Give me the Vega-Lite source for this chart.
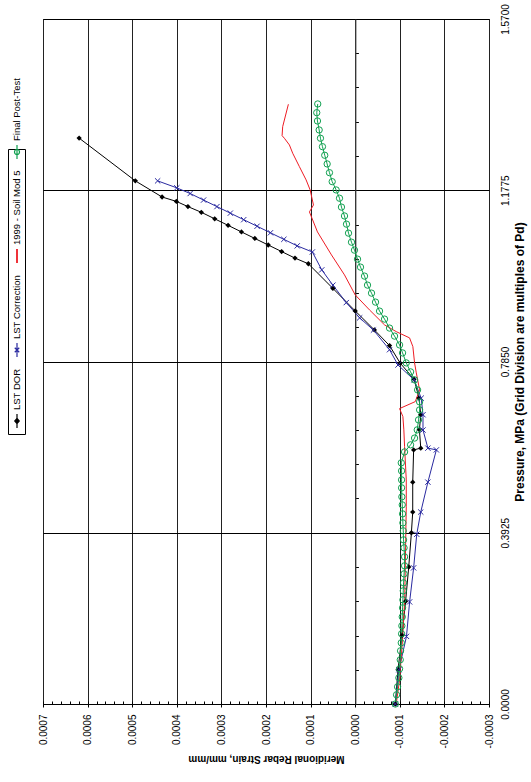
{
  "$schema": "https://vega.github.io/schema/vega-lite/v6.json",
  "autosize": {"type": "none"},
  "padding": {"left": 43, "top": 19, "right": 42, "bottom": 78},
  "width": 446,
  "height": 685,
  "background": "white",
  "config": {
    "view": {"stroke": "black", "strokeWidth": 1},
    "axis": {"labelFont": "Liberation Sans", "titleFont": "Liberation Sans", "labelColor": "black", "titleColor": "black", "tickColor": "black", "domainColor": "black"}
  },
  "data": {"values": [
    {"series": "LST DOR", "i": 0, "s": -0.00009, "p": 0},
    {"series": "LST DOR", "i": 1, "s": -0.000096, "p": 0.0785},
    {"series": "LST DOR", "i": 2, "s": -0.000105, "p": 0.157},
    {"series": "LST DOR", "i": 3, "s": -0.000113, "p": 0.2355},
    {"series": "LST DOR", "i": 4, "s": -0.00012, "p": 0.314},
    {"series": "LST DOR", "i": 5, "s": -0.000126, "p": 0.3925},
    {"series": "LST DOR", "i": 6, "s": -0.000129, "p": 0.44},
    {"series": "LST DOR", "i": 7, "s": -0.000129, "p": 0.5085},
    {"series": "LST DOR", "i": 8, "s": -0.000131, "p": 0.5824},
    {"series": "LST DOR", "i": 9, "s": -0.000147, "p": 0.5864},
    {"series": "LST DOR", "i": 10, "s": -0.000144, "p": 0.6283},
    {"series": "LST DOR", "i": 11, "s": -0.000147, "p": 0.6627},
    {"series": "LST DOR", "i": 12, "s": -0.000143, "p": 0.7016},
    {"series": "LST DOR", "i": 13, "s": -0.000132, "p": 0.7444},
    {"series": "LST DOR", "i": 14, "s": -0.000101, "p": 0.7811},
    {"series": "LST DOR", "i": 15, "s": -0.000077, "p": 0.8214},
    {"series": "LST DOR", "i": 16, "s": -0.000043, "p": 0.8574},
    {"series": "LST DOR", "i": 17, "s": 0.0, "p": 0.901},
    {"series": "LST DOR", "i": 18, "s": 0.00005, "p": 0.9525},
    {"series": "LST DOR", "i": 19, "s": 0.000105, "p": 1.009},
    {"series": "LST DOR", "i": 20, "s": 0.000135, "p": 1.022},
    {"series": "LST DOR", "i": 21, "s": 0.000165, "p": 1.037},
    {"series": "LST DOR", "i": 22, "s": 0.000195, "p": 1.052},
    {"series": "LST DOR", "i": 23, "s": 0.000225, "p": 1.067},
    {"series": "LST DOR", "i": 24, "s": 0.000255, "p": 1.082},
    {"series": "LST DOR", "i": 25, "s": 0.000285, "p": 1.097},
    {"series": "LST DOR", "i": 26, "s": 0.000315, "p": 1.112},
    {"series": "LST DOR", "i": 27, "s": 0.000345, "p": 1.127},
    {"series": "LST DOR", "i": 28, "s": 0.000375, "p": 1.14},
    {"series": "LST DOR", "i": 29, "s": 0.000401, "p": 1.152},
    {"series": "LST DOR", "i": 30, "s": 0.000433, "p": 1.162},
    {"series": "LST DOR", "i": 31, "s": 0.000493, "p": 1.199},
    {"series": "LST DOR", "i": 32, "s": 0.000619, "p": 1.297},
    {"series": "LST Correction", "i": 0, "s": -0.00009, "p": 0},
    {"series": "LST Correction", "i": 1, "s": -0.000098, "p": 0.0785},
    {"series": "LST Correction", "i": 2, "s": -0.000115, "p": 0.155},
    {"series": "LST Correction", "i": 3, "s": -0.000122, "p": 0.234},
    {"series": "LST Correction", "i": 4, "s": -0.000131, "p": 0.312},
    {"series": "LST Correction", "i": 5, "s": -0.000138, "p": 0.389},
    {"series": "LST Correction", "i": 6, "s": -0.000147, "p": 0.44},
    {"series": "LST Correction", "i": 7, "s": -0.000163, "p": 0.5085},
    {"series": "LST Correction", "i": 8, "s": -0.000182, "p": 0.5824},
    {"series": "LST Correction", "i": 9, "s": -0.000163, "p": 0.5864},
    {"series": "LST Correction", "i": 10, "s": -0.000152, "p": 0.628},
    {"series": "LST Correction", "i": 11, "s": -0.000152, "p": 0.663},
    {"series": "LST Correction", "i": 12, "s": -0.000148, "p": 0.701},
    {"series": "LST Correction", "i": 13, "s": -0.000132, "p": 0.743},
    {"series": "LST Correction", "i": 14, "s": -0.000096, "p": 0.777},
    {"series": "LST Correction", "i": 15, "s": -0.000077, "p": 0.812},
    {"series": "LST Correction", "i": 16, "s": -0.000041, "p": 0.857},
    {"series": "LST Correction", "i": 17, "s": -0.00001, "p": 0.885},
    {"series": "LST Correction", "i": 18, "s": 0.00002, "p": 0.92},
    {"series": "LST Correction", "i": 19, "s": 0.00005, "p": 0.96},
    {"series": "LST Correction", "i": 20, "s": 0.000075, "p": 0.995},
    {"series": "LST Correction", "i": 21, "s": 0.000096, "p": 1.036},
    {"series": "LST Correction", "i": 22, "s": 0.00013, "p": 1.05},
    {"series": "LST Correction", "i": 23, "s": 0.00016, "p": 1.065},
    {"series": "LST Correction", "i": 24, "s": 0.00019, "p": 1.08},
    {"series": "LST Correction", "i": 25, "s": 0.00022, "p": 1.095},
    {"series": "LST Correction", "i": 26, "s": 0.00025, "p": 1.11},
    {"series": "LST Correction", "i": 27, "s": 0.00028, "p": 1.125},
    {"series": "LST Correction", "i": 28, "s": 0.00031, "p": 1.14},
    {"series": "LST Correction", "i": 29, "s": 0.00034, "p": 1.155},
    {"series": "LST Correction", "i": 30, "s": 0.00037, "p": 1.17},
    {"series": "LST Correction", "i": 31, "s": 0.0004, "p": 1.183},
    {"series": "LST Correction", "i": 32, "s": 0.000443, "p": 1.199},
    {"series": "1999 - Soil Mod 5", "i": 0, "s": -0.000092, "p": 0},
    {"series": "1999 - Soil Mod 5", "i": 1, "s": -0.0000995, "p": 0.055},
    {"series": "1999 - Soil Mod 5", "i": 2, "s": -0.000106, "p": 0.147},
    {"series": "1999 - Soil Mod 5", "i": 3, "s": -0.000111, "p": 0.239},
    {"series": "1999 - Soil Mod 5", "i": 4, "s": -0.0001145, "p": 0.452},
    {"series": "1999 - Soil Mod 5", "i": 5, "s": -0.0001145, "p": 0.5137},
    {"series": "1999 - Soil Mod 5", "i": 6, "s": -0.0001107, "p": 0.59},
    {"series": "1999 - Soil Mod 5", "i": 7, "s": -0.0001091, "p": 0.6283},
    {"series": "1999 - Soil Mod 5", "i": 8, "s": -0.0001069, "p": 0.6588},
    {"series": "1999 - Soil Mod 5", "i": 9, "s": -0.0000995, "p": 0.6771},
    {"series": "1999 - Soil Mod 5", "i": 10, "s": -0.0001347, "p": 0.6931},
    {"series": "1999 - Soil Mod 5", "i": 11, "s": -0.0001444, "p": 0.72},
    {"series": "1999 - Soil Mod 5", "i": 12, "s": -0.000137, "p": 0.7589},
    {"series": "1999 - Soil Mod 5", "i": 13, "s": -0.0001331, "p": 0.7818},
    {"series": "1999 - Soil Mod 5", "i": 14, "s": -0.0001293, "p": 0.8191},
    {"series": "1999 - Soil Mod 5", "i": 15, "s": -0.0001219, "p": 0.8391},
    {"series": "1999 - Soil Mod 5", "i": 16, "s": -0.000092, "p": 0.8535},
    {"series": "1999 - Soil Mod 5", "i": 17, "s": -0.0000658, "p": 0.8689},
    {"series": "1999 - Soil Mod 5", "i": 18, "s": -0.0000321, "p": 0.9032},
    {"series": "1999 - Soil Mod 5", "i": 19, "s": 0.0, "p": 0.9376},
    {"series": "1999 - Soil Mod 5", "i": 20, "s": 0.000024, "p": 0.9835},
    {"series": "1999 - Soil Mod 5", "i": 21, "s": 0.0000532, "p": 1.0293},
    {"series": "1999 - Soil Mod 5", "i": 22, "s": 0.0000846, "p": 1.082},
    {"series": "1999 - Soil Mod 5", "i": 23, "s": 0.0001026, "p": 1.1278},
    {"series": "1999 - Soil Mod 5", "i": 24, "s": 0.0000936, "p": 1.1438},
    {"series": "1999 - Soil Mod 5", "i": 25, "s": 0.000101, "p": 1.1782},
    {"series": "1999 - Soil Mod 5", "i": 26, "s": 0.00011, "p": 1.2011},
    {"series": "1999 - Soil Mod 5", "i": 27, "s": 0.0001251, "p": 1.2316},
    {"series": "1999 - Soil Mod 5", "i": 28, "s": 0.0001401, "p": 1.2623},
    {"series": "1999 - Soil Mod 5", "i": 29, "s": 0.0001475, "p": 1.2813},
    {"series": "1999 - Soil Mod 5", "i": 30, "s": 0.0001587, "p": 1.2966},
    {"series": "1999 - Soil Mod 5", "i": 31, "s": 0.0001639, "p": 1.3026},
    {"series": "1999 - Soil Mod 5", "i": 32, "s": 0.0001626, "p": 1.3232},
    {"series": "1999 - Soil Mod 5", "i": 33, "s": 0.0001498, "p": 1.3746},
    {"series": "Final Post-Test", "i": 0, "s": -0.00009, "p": 0},
    {"series": "Final Post-Test", "i": 1, "s": -0.0000927, "p": 0.0211},
    {"series": "Final Post-Test", "i": 2, "s": -0.000095, "p": 0.0394},
    {"series": "Final Post-Test", "i": 3, "s": -0.0000979, "p": 0.06},
    {"series": "Final Post-Test", "i": 4, "s": -0.0000995, "p": 0.0807},
    {"series": "Final Post-Test", "i": 5, "s": -0.000101, "p": 0.1013},
    {"series": "Final Post-Test", "i": 6, "s": -0.0001017, "p": 0.1219},
    {"series": "Final Post-Test", "i": 7, "s": -0.0001033, "p": 0.1402},
    {"series": "Final Post-Test", "i": 8, "s": -0.000104, "p": 0.1609},
    {"series": "Final Post-Test", "i": 9, "s": -0.0001046, "p": 0.1792},
    {"series": "Final Post-Test", "i": 10, "s": -0.0001055, "p": 0.1998},
    {"series": "Final Post-Test", "i": 11, "s": -0.0001062, "p": 0.2204},
    {"series": "Final Post-Test", "i": 12, "s": -0.0001069, "p": 0.2388},
    {"series": "Final Post-Test", "i": 13, "s": -0.0001078, "p": 0.2594},
    {"series": "Final Post-Test", "i": 14, "s": -0.0001084, "p": 0.2777},
    {"series": "Final Post-Test", "i": 15, "s": -0.0001096, "p": 0.2983},
    {"series": "Final Post-Test", "i": 16, "s": -0.0001107, "p": 0.3167},
    {"series": "Final Post-Test", "i": 17, "s": -0.0001107, "p": 0.3373},
    {"series": "Final Post-Test", "i": 18, "s": -0.0001096, "p": 0.3579},
    {"series": "Final Post-Test", "i": 19, "s": -0.0001084, "p": 0.3762},
    {"series": "Final Post-Test", "i": 20, "s": -0.0001078, "p": 0.3969},
    {"series": "Final Post-Test", "i": 21, "s": -0.0001069, "p": 0.4152},
    {"series": "Final Post-Test", "i": 22, "s": -0.0001062, "p": 0.4358},
    {"series": "Final Post-Test", "i": 23, "s": -0.0001055, "p": 0.4564},
    {"series": "Final Post-Test", "i": 24, "s": -0.0001046, "p": 0.4748},
    {"series": "Final Post-Test", "i": 25, "s": -0.000104, "p": 0.4954},
    {"series": "Final Post-Test", "i": 26, "s": -0.000104, "p": 0.5137},
    {"series": "Final Post-Test", "i": 27, "s": -0.000104, "p": 0.5343},
    {"series": "Final Post-Test", "i": 28, "s": -0.0001033, "p": 0.5527},
    {"series": "Final Post-Test", "i": 29, "s": -0.0001107, "p": 0.5778},
    {"series": "Final Post-Test", "i": 30, "s": -0.0001242, "p": 0.594},
    {"series": "Final Post-Test", "i": 31, "s": -0.0001331, "p": 0.6095},
    {"series": "Final Post-Test", "i": 32, "s": -0.0001391, "p": 0.6283},
    {"series": "Final Post-Test", "i": 33, "s": -0.000142, "p": 0.6512},
    {"series": "Final Post-Test", "i": 34, "s": -0.0001444, "p": 0.6741},
    {"series": "Final Post-Test", "i": 35, "s": -0.0001444, "p": 0.6924},
    {"series": "Final Post-Test", "i": 36, "s": -0.0001399, "p": 0.7199},
    {"series": "Final Post-Test", "i": 37, "s": -0.0001331, "p": 0.7429},
    {"series": "Final Post-Test", "i": 38, "s": -0.0001242, "p": 0.7612},
    {"series": "Final Post-Test", "i": 39, "s": -0.0001145, "p": 0.7818},
    {"series": "Final Post-Test", "i": 40, "s": -0.0001062, "p": 0.8047},
    {"series": "Final Post-Test", "i": 41, "s": -0.0000995, "p": 0.823},
    {"series": "Final Post-Test", "i": 42, "s": -0.0000882, "p": 0.8432},
    {"series": "Final Post-Test", "i": 43, "s": -0.000077, "p": 0.8616},
    {"series": "Final Post-Test", "i": 44, "s": -0.0000658, "p": 0.8822},
    {"series": "Final Post-Test", "i": 45, "s": -0.0000546, "p": 0.9005},
    {"series": "Final Post-Test", "i": 46, "s": -0.0000456, "p": 0.9211},
    {"series": "Final Post-Test", "i": 47, "s": -0.0000366, "p": 0.9417},
    {"series": "Final Post-Test", "i": 48, "s": -0.0000276, "p": 0.9601},
    {"series": "Final Post-Test", "i": 49, "s": -0.0000209, "p": 0.9807},
    {"series": "Final Post-Test", "i": 50, "s": -0.0000119, "p": 1.0013},
    {"series": "Final Post-Test", "i": 51, "s": -0.0000052, "p": 1.0196},
    {"series": "Final Post-Test", "i": 52, "s": 0.0000016, "p": 1.0402},
    {"series": "Final Post-Test", "i": 53, "s": 0.0000083, "p": 1.0585},
    {"series": "Final Post-Test", "i": 54, "s": 0.000015, "p": 1.0792},
    {"series": "Final Post-Test", "i": 55, "s": 0.0000195, "p": 1.0998},
    {"series": "Final Post-Test", "i": 56, "s": 0.000024, "p": 1.1186},
    {"series": "Final Post-Test", "i": 57, "s": 0.0000308, "p": 1.1389},
    {"series": "Final Post-Test", "i": 58, "s": 0.0000352, "p": 1.1592},
    {"series": "Final Post-Test", "i": 59, "s": 0.0000427, "p": 1.1782},
    {"series": "Final Post-Test", "i": 60, "s": 0.0000516, "p": 1.1972},
    {"series": "Final Post-Test", "i": 61, "s": 0.0000577, "p": 1.2178},
    {"series": "Final Post-Test", "i": 62, "s": 0.0000629, "p": 1.2378},
    {"series": "Final Post-Test", "i": 63, "s": 0.0000683, "p": 1.2577},
    {"series": "Final Post-Test", "i": 64, "s": 0.0000734, "p": 1.2774},
    {"series": "Final Post-Test", "i": 65, "s": 0.0000779, "p": 1.2967},
    {"series": "Final Post-Test", "i": 66, "s": 0.0000808, "p": 1.3157},
    {"series": "Final Post-Test", "i": 67, "s": 0.0000846, "p": 1.3363},
    {"series": "Final Post-Test", "i": 68, "s": 0.0000862, "p": 1.3553},
    {"series": "Final Post-Test", "i": 69, "s": 0.000084, "p": 1.3753}
  ]},
  "resolve": {"axis": {"x": "independent", "y": "independent"}},
  "layer": [
    {
      "mark": {"type": "point", "opacity": 0},
      "encoding": {
        "x": {"field": "s", "type": "quantitative",
          "scale": {"domain": [-0.0003, 0.0007], "reverse": true, "nice": false, "zero": false},
          "axis": {"orient": "bottom", "values": [-0.0003,-0.00028,-0.00026,-0.00024,-0.00022,-0.0002,-0.00018,-0.00016,-0.00014,-0.00012,-0.0001,-0.00008,-0.00006,-0.00004,-0.00002,0,0.00002,0.00004,0.00006,0.00008,0.0001,0.00012,0.00014,0.00016,0.00018,0.0002,0.00022,0.00024,0.00026,0.00028,0.0003,0.00032,0.00034,0.00036,0.00038,0.0004,0.00042,0.00044,0.00046,0.00048,0.0005,0.00052,0.00054,0.00056,0.00058,0.0006,0.00062,0.00064,0.00066,0.00068,0.0007],
            "labels": false, "domain": false, "grid": false, "tickSize": -3, "title": null}},
        "y": {"field": "p", "type": "quantitative",
          "scale": {"domain": [0, 1.57], "nice": false, "zero": true},
          "axis": {"orient": "left", "offset": -312.4, "values": [0,0.0785,0.157,0.2355,0.314,0.3925,0.471,0.5495,0.628,0.7065,0.785,0.8635,0.942,1.0205,1.099,1.1775,1.256,1.3345,1.413,1.4915,1.57],
            "labels": false, "domain": true, "domainColor": "#444", "grid": false, "tickSize": -3, "title": null}}
      }
    },
    {
      "mark": {"type": "line", "strokeWidth": 1, "clip": true},
      "encoding": {
        "x": {"field": "s", "type": "quantitative",
          "axis": {"orient": "bottom", "values": [-0.0003,-0.0002,-0.0001,0,0.0001,0.0002,0.0003,0.0004,0.0005,0.0006,0.0007],
            "labelExpr": "replace(format(datum.value, '.4f'), '\u2212', '-')",
            "labelAngle": -90, "labelAlign": "right", "labelBaseline": "middle", "labelFontSize": 10, "labelPadding": 7,
            "tickSize": 3, "domain": true, "grid": true, "gridColor": "#222", "gridOpacity": 1,
            "title": "Meridional Rebar Strain, mm/mm", "titleAngle": 180, "titleBaseline": "bottom", "titleFontSize": 10, "titleFontWeight": "bold", "titlePadding": 6}},
        "y": {"field": "p", "type": "quantitative",
          "axis": {"orient": "right", "values": [0, 0.3925, 0.785, 1.1775, 1.57], "format": ".4f",
            "labelAngle": -90, "labelAlign": "center", "labelBaseline": "top", "labelFontSize": 10, "labelPadding": 11,
            "ticks": false, "domain": false, "grid": true, "gridColor": "black", "gridOpacity": 1,
            "title": "Pressure, MPa (Grid Division are multiples of Pd)", "titleAngle": -90, "titleBaseline": "top", "titleFontSize": 12, "titleFontWeight": "bold", "titlePadding": 4}},
        "color": {"field": "series", "type": "nominal",
          "scale": {"domain": ["Final Post-Test", "1999 - Soil Mod 5", "LST Correction", "LST DOR"], "range": ["#10a050", "#ee1c24", "#2a2aa0", "#000000"]},
          "legend": {
            "orient": "none", "legendX": -35, "legendY": 130, "direction": "vertical", "title": null,
            "strokeColor": "black", "fillColor": "white", "padding": 3, "rowPadding": 8,
            "labelFont": "Liberation Sans", "labelFontSize": 9.5, "labelColor": "black", "labelLimit": 200,
            "encode": {
              "labels": {"update": {"angle": {"value": -90}, "align": {"value": "left"}, "baseline": {"value": "middle"}, "x": {"value": 6}, "y": {"value": -11}}},
              "symbols": {"update": {
                "x": {"value": 6}, "y": {"value": 0}, "size": {"value": 196}, "strokeWidth": {"signal": "datum.value === '1999 - Soil Mod 5' ? 1.8 : 1.2"},
                "shape": {"signal": "datum.value === 'LST DOR' ? 'M0,-1L0,1M0,-0.38L0.32,0L0,0.38L-0.32,0Z' : datum.value === 'LST Correction' ? 'M0,-1L0,1M-0.32,-0.32L0.32,0.32M-0.32,0.32L0.32,-0.32' : datum.value === 'Final Post-Test' ? 'M0,-1L0,1M0.36,0A0.36,0.36 0 1,1 -0.36,0A0.36,0.36 0 1,1 0.36,0' : 'M0,-1L0,1'"},
                "fill": {"signal": "datum.value === 'LST DOR' ? 'black' : 'transparent'"},
                "stroke": {"signal": "datum.value === 'LST DOR' ? 'black' : datum.value === 'LST Correction' ? '#2a2aa0' : datum.value === 'Final Post-Test' ? '#10a050' : '#ee1c24'"}
              }}
            }
          }},
        "order": {"field": "i", "type": "quantitative"}
      }
    },
    {
      "transform": [{"filter": "datum.series === 'LST DOR'"}],
      "mark": {"type": "point", "shape": "diamond", "filled": true, "color": "black", "size": 28, "opacity": 1},
      "encoding": {"x": {"field": "s", "type": "quantitative", "axis": null}, "y": {"field": "p", "type": "quantitative", "axis": null}}
    },
    {
      "transform": [{"filter": "datum.series === 'LST Correction'"}],
      "mark": {"type": "point", "shape": "M-1,-1L1,1M-1,1L1,-1", "filled": false, "color": "#2a2aa0", "size": 28, "strokeWidth": 1, "opacity": 1},
      "encoding": {"x": {"field": "s", "type": "quantitative", "axis": null}, "y": {"field": "p", "type": "quantitative", "axis": null}}
    },
    {
      "transform": [{"filter": "datum.series === 'Final Post-Test'"}],
      "mark": {"type": "point", "shape": "circle", "filled": false, "color": "#10a050", "size": 40, "strokeWidth": 1, "opacity": 1},
      "encoding": {"x": {"field": "s", "type": "quantitative", "axis": null}, "y": {"field": "p", "type": "quantitative", "axis": null}}
    }
  ]
}
